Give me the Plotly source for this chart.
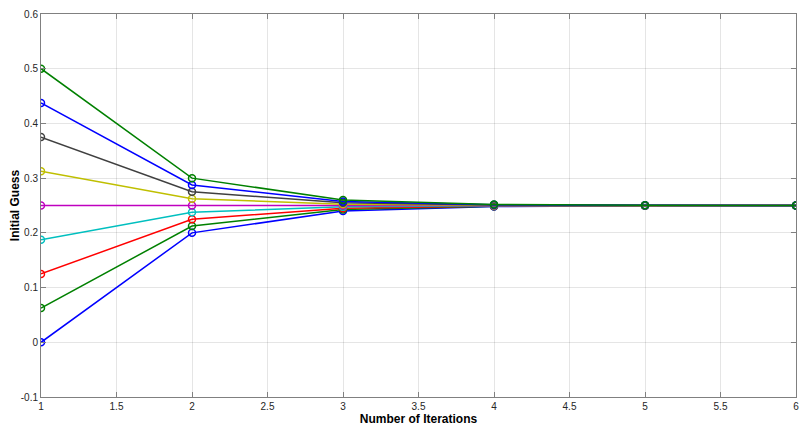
import plotly.graph_objects as go

iterations = [1, 2, 3, 4, 5, 6]

s1 = [0.0, 0.2, 0.24, 0.248, 0.2496, 0.25]
s2 = [0.0625, 0.2125, 0.2425, 0.2485, 0.2497, 0.25]
s3 = [0.125, 0.225, 0.245, 0.249, 0.2498, 0.25]
s4 = [0.1875, 0.2375, 0.2475, 0.2495, 0.2499, 0.25]
s5 = [0.25, 0.25, 0.25, 0.25, 0.25, 0.25]
s6 = [0.3125, 0.2625, 0.2525, 0.2505, 0.2501, 0.25]
s7 = [0.375, 0.275, 0.255, 0.251, 0.2502, 0.25]
s8 = [0.4375, 0.2875, 0.2575, 0.2515, 0.2503, 0.25]
s9 = [0.5, 0.3, 0.26, 0.252, 0.2504, 0.25]

series = [s1, s2, s3, s4, s5, s6, s7, s8, s9]
colors = ["#0000FF", "#008000", "#FF0000", "#00BFBF", "#BF00BF",
          "#BFBF00", "#404040", "#0000FF", "#008000"]

x_ticks = [1, 1.5, 2, 2.5, 3, 3.5, 4, 4.5, 5, 5.5, 6]
y_ticks = [-0.1, 0, 0.1, 0.2, 0.3, 0.4, 0.5, 0.6]

fig = go.Figure()
for s, c in zip(series, colors):
    fig.add_trace(go.Scatter(
        x=iterations, y=s, mode="lines+markers",
        line=dict(color=c, width=1.5),
        marker=dict(symbol="circle-open", size=7, color=c, line=dict(width=1.5, color=c)),
        showlegend=False, hoverinfo="skip"))

axis_common = dict(
    showline=True, linecolor="#808080", linewidth=1, mirror="ticks",
    ticks="inside", ticklen=5, tickcolor="#808080",
    showgrid=True, gridcolor="rgba(0,0,0,0.1)", gridwidth=1,
    zeroline=False, automargin=False,
    tickfont=dict(family="Liberation Sans, Arial, sans-serif", size=10, color="#262626"),
)

fig.update_xaxes(range=[1, 6], tickvals=x_ticks,
                 ticktext=[f"{v:g}" for v in x_ticks],
                 title=dict(text="<b>Number of Iterations</b>", standoff=2,
                            font=dict(family="Liberation Sans, Arial, sans-serif", size=12, color="#000000")),
                 **axis_common)
fig.update_yaxes(range=[-0.1, 0.6], tickvals=y_ticks,
                 ticktext=[f"{v:g}" for v in y_ticks],
                 title=dict(text="<b>Initial Guess</b>", standoff=4,
                            font=dict(family="Liberation Sans, Arial, sans-serif", size=12, color="#000000")),
                 **axis_common)

fig.update_layout(
    width=812, height=436,
    margin=dict(l=33, r=24, t=6, b=47),
    plot_bgcolor="white", paper_bgcolor="white",
)

fig.write_html("out.html")
